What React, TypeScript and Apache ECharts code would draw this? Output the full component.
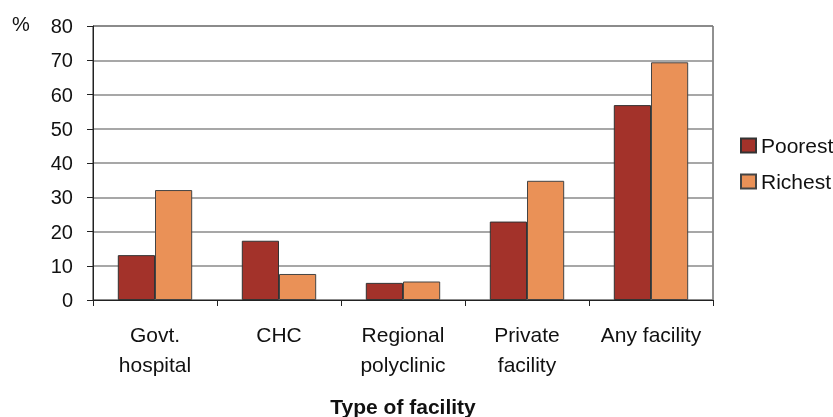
import React, { useEffect, useRef } from "react";
import * as echarts from "echarts";

const categories = ["Govt.\nhospital", "CHC", "Regional\npolyclinic", "Private\nfacility", "Any facility"];
const poorest = [13.1, 17.3, 5.0, 22.9, 56.9];
const richest = [32.1, 7.6, 5.4, 34.8, 69.4];
const seriesNames = ["Poorest", "Richest"];

const FONT = "'Liberation Sans', Arial, sans-serif";

export default function App() {
  const ref = useRef<HTMLDivElement>(null);
  useEffect(() => {
    const chart = echarts.init(ref.current!, null, { renderer: "svg" });
    chart.setOption({
      animation: false,
      textStyle: { fontFamily: FONT },
      grid: {
        left: 93,
        right: 120,
        top: 26,
        bottom: 117,
        show: true,
        borderColor: "#222",
        borderWidth: 1,
        containLabel: false,
        outerBoundsMode: "none",
      },
      legend: {
        orient: "vertical",
        left: 735,
        top: 130,
        itemWidth: 15,
        itemHeight: 14,
        itemGap: 15,
        icon: "rect",
        data: seriesNames,
        textStyle: { fontSize: 21, color: "#111", fontFamily: FONT },
      },
      graphic: [
        { type: "text", left: 12, top: 14, style: { text: "%", fontSize: 20, fill: "#111", fontFamily: FONT } },
      ],
      xAxis: {
        type: "category",
        data: categories,
        name: "Type of facility",
        nameLocation: "middle",
        nameGap: 96,
        nameTextStyle: { fontSize: 21, fontWeight: "bold", color: "#111", fontFamily: FONT },
        axisLine: { lineStyle: { color: "#222" } },
        axisTick: { show: true, inside: false, length: 6, lineStyle: { color: "#222" } },
        axisLabel: { fontSize: 21, color: "#111", margin: 19, lineHeight: 30, interval: 0 },
      },
      yAxis: {
        type: "value",
        min: 0,
        max: 80,
        interval: 10,
        axisLine: { show: true, lineStyle: { color: "#222" } },
        axisTick: { show: true, inside: false, length: 6, lineStyle: { color: "#222" } },
        axisLabel: { fontSize: 20, color: "#111", margin: 20 },
        splitLine: { lineStyle: { color: "#8a8a8a", width: 1.5 } },
      },
      series: [
        {
          name: seriesNames[0],
          type: "bar",
          data: poorest,
          barGap: "0%",
          barCategoryGap: "40%",
          itemStyle: { color: "#A3322A", borderColor: "#333", borderWidth: 1 },
        },
        {
          name: seriesNames[1],
          type: "bar",
          data: richest,
          itemStyle: { color: "#EA9157", borderColor: "#444", borderWidth: 1 },
        },
      ],
    });
    return () => chart.dispose();
  }, []);
  return <div ref={ref} style={{ position: "fixed", left: 0, top: 0, width: 833, height: 417 }} />;
}
